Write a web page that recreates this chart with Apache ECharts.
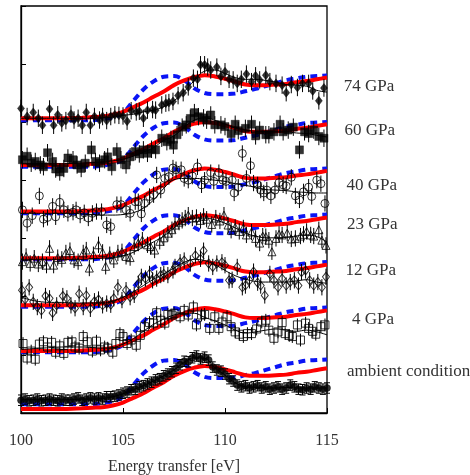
<!DOCTYPE html>
<html>
<head>
<meta charset="utf-8">
<script src="https://cdn.jsdelivr.net/npm/echarts/dist/echarts.min.js"></script>
<style>
  html, body { margin: 0; padding: 0; background: #fff; }
  #chart { width: 470px; height: 475px; }
</style>
</head>
<body>
<div id="chart"></div>
<script>
// Energy grid for the calculated spectra and the smoothed fits [eV]
const energyGrid = [100,100.5,101,101.5,102,102.5,103,103.5,104,104.5,105,105.5,106,106.5,107,107.5,
  108,108.5,109,109.5,110,110.5,111,111.5,112,112.5,113,113.5,114,114.5,115];

// Spectrum names, bottom to top
const spectra = ['ambient condition', '4 GPa', '12 GPa', '23 GPa', '40 GPa', '60 GPa', '74 GPa'];

// Vertical offsets of the stacked spectra (arb. units)
const offsets = [0.07, 1.065, 1.852, 2.663, 3.464, 4.266, 5.069];
const dashedOffsets = [0.151, 1.045, 1.826, 2.643, 3.436, 4.235, 5.034];

// Calculated spectra (same shape for every pressure)
const calcSolid = [0,0,0,0,0,0.003,0.01,0.02,0.03,0.06,0.11,0.19,0.27,0.37,0.46,0.57,
  0.65,0.71,0.74,0.72,0.68,0.63,0.58,0.57,0.57,0.58,0.59,0.62,0.64,0.67,0.70];
const calcDashed = [0,0,0,0,0,0,0,0,0.02,0.05,0.13,0.33,0.53,0.67,0.75,0.76,
  0.69,0.55,0.47,0.45,0.45,0.46,0.50,0.54,0.59,0.64,0.69,0.72,0.75,0.76,0.77];

// Measured spectra: [energy transfer, intensity]
const dataAmbient = [[100.0,0.15],[100.2,0.17],[100.4,0.14],[100.6,0.15],[100.8,0.17],[101.0,0.14],[101.2,0.15],
  [101.4,0.17],[101.6,0.15],[101.8,0.14],[102.0,0.17],[102.2,0.15],[102.4,0.15],[102.6,0.17],[102.8,0.19],
  [103.0,0.15],[103.2,0.17],[103.4,0.19],[103.6,0.17],[103.8,0.19],[104.0,0.17],[104.2,0.21],[104.4,0.21],
  [104.6,0.22],[104.8,0.24],[105.0,0.27],[105.2,0.29],[105.4,0.33],[105.6,0.34],[105.8,0.38],[106.0,0.40],
  [106.2,0.43],[106.4,0.46],[106.6,0.50],[106.8,0.52],[107.0,0.57],[107.2,0.60],[107.4,0.64],[107.6,0.70],
  [107.8,0.76],[108.0,0.82],[108.2,0.81],[108.4,0.88],[108.6,0.91],[108.8,0.86],[109.0,0.89],[109.2,0.84],
  [109.4,0.72],[109.6,0.67],[109.8,0.65],[110.0,0.60],[110.2,0.52],[110.4,0.48],[110.6,0.41],[110.8,0.38],
  [111.0,0.40],[111.2,0.36],[111.4,0.38],[111.6,0.40],[111.8,0.36],[112.0,0.38],[112.2,0.34],[112.4,0.36],
  [112.6,0.38],[112.8,0.34],[113.0,0.36],[113.2,0.41],[113.4,0.38],[113.6,0.34],[113.8,0.33],[114.0,0.36],
  [114.2,0.34],[114.4,0.38],[114.6,0.36],[114.8,0.34],[115.0,0.36]];

const data4 = [[100.1,0.13],[100.3,-0.12],[100.5,0.00],[100.7,-0.14],[100.9,0.12],[101.1,0.16],[101.3,0.07],
  [101.5,0.15],[101.7,-0.02],[101.9,0.09],[102.1,-0.04],[102.3,0.15],[102.5,0.16],[102.65,0.07],[102.85,0.05],
  [103.05,0.25],[103.25,0.16],[103.5,0.00],[103.7,0.17],[103.9,0.02],[104.1,0.07],[104.25,0.05],[104.5,-0.02],
  [104.65,0.13],[104.85,0.30],[105.0,0.25],[105.2,0.13],[105.4,0.19],[105.65,0.10],[105.85,0.27],[106.05,0.42],
  [106.3,0.49],[106.5,0.48],[106.65,0.66],[106.85,0.53],[107.05,0.48],[107.2,0.63],[107.4,0.62],[107.5,0.65],
  [107.8,0.59],[108.0,0.70],[108.2,0.62],[108.45,0.76],[108.6,0.45],[108.85,0.62],[109.0,0.63],[109.25,0.39],
  [109.5,0.59],[109.7,0.39],[109.85,0.50],[110.1,0.59],[110.3,0.42],[110.5,0.33],[110.7,0.29],[110.9,0.25],
  [111.1,0.30],[111.3,0.30],[111.55,0.38],[111.8,0.50],[112.0,0.53],[112.15,0.36],[112.4,0.22],[112.6,0.33],
  [112.8,0.49],[112.95,0.30],[113.15,0.27],[113.3,0.25],[113.55,0.45],[113.7,0.19],[113.95,0.48],[114.1,0.39],
  [114.3,0.34],[114.45,0.29],[114.7,0.42],[114.9,0.45]];

const data12 = [[100.05,0.26],[100.2,0.10],[100.4,0.31],[100.6,0.06],[100.8,-0.03],[101.0,-0.09],[101.2,0.16],
  [101.4,0.12],[101.55,-0.13],[101.75,0.00],[102.05,0.16],[102.25,0.12],[102.45,0.00],[102.65,-0.05],[102.85,0.20],
  [103.05,-0.03],[103.2,0.17],[103.4,-0.06],[103.6,0.07],[103.8,0.10],[104.0,0.00],[104.2,0.03],[104.4,0.01],
  [104.55,0.12],[104.75,0.31],[104.95,0.09],[105.15,0.26],[105.35,0.14],[105.55,0.18],[105.75,0.37],[105.9,0.49],
  [106.1,0.46],[106.3,0.54],[106.45,0.43],[106.65,0.46],[106.85,0.52],[107.0,0.54],[107.2,0.52],[107.45,0.60],
  [107.55,0.66],[107.8,0.74],[108.0,0.77],[108.3,0.72],[108.55,0.86],[108.8,0.80],[108.95,0.94],[109.2,0.72],
  [109.4,0.66],[109.6,0.72],[109.85,0.74],[110.0,0.69],[110.2,0.43],[110.35,0.44],[110.6,0.66],[110.85,0.31],
  [111.0,0.34],[111.2,0.43],[111.4,0.58],[111.6,0.39],[111.75,0.34],[111.95,0.17],[112.2,0.54],[112.4,0.43],
  [112.6,0.31],[112.8,0.46],[113.0,0.34],[113.2,0.40],[113.4,0.43],[113.6,0.34],[113.75,0.57],[113.95,0.60],
  [114.15,0.43],[114.35,0.34],[114.55,0.40],[114.75,0.31],[114.95,0.49]];

const data23 = [[100.07,-0.06],[100.25,0.03],[100.45,-0.09],[100.65,0.00],[100.85,-0.10],[101.05,-0.06],
  [101.25,-0.12],[101.4,0.17],[101.6,-0.12],[101.8,0.01],[102.0,-0.02],[102.2,0.09],[102.4,0.13],[102.6,-0.03],
  [102.8,-0.06],[103.05,0.09],[103.2,0.14],[103.35,-0.17],[103.55,0.06],[103.8,0.23],[104.0,0.10],[104.15,-0.14],
  [104.35,0.06],[104.55,-0.03],[104.75,0.09],[104.95,0.11],[105.15,0.03],[105.35,0.01],[105.55,0.20],[105.75,0.26],
  [105.95,0.31],[106.2,0.23],[106.35,0.20],[106.55,0.14],[106.8,0.29],[107.0,0.35],[107.2,0.43],[107.4,0.49],
  [107.55,0.57],[107.75,0.62],[107.9,0.65],[108.05,0.69],[108.2,0.74],[108.4,0.69],[108.6,0.70],[108.8,0.65],
  [108.95,0.72],[109.1,0.67],[109.35,0.58],[109.55,0.69],[109.75,0.64],[109.95,0.74],[110.15,0.57],[110.3,0.48],
  [110.5,0.53],[110.7,0.46],[110.9,0.52],[111.05,0.40],[111.3,0.45],[111.5,0.34],[111.7,0.26],[111.85,0.38],
  [112.0,0.37],[112.15,0.31],[112.3,0.11],[112.5,0.34],[112.65,0.41],[112.8,0.40],[113.05,0.43],[113.25,0.33],
  [113.45,0.34],[113.7,0.38],[113.85,0.41],[114.0,0.46],[114.2,0.40],[114.35,0.38],[114.6,0.49],[114.75,0.31],
  [114.95,0.22]];

const data40 = [[100.07,0.03],[100.3,-0.20],[100.55,-0.07],[100.9,0.27],[101.1,-0.13],[101.3,-0.10],[101.55,0.09],
  [101.7,-0.09],[101.9,0.16],[102.1,0.03],[102.3,-0.03],[102.55,-0.01],[102.7,0.03],[102.9,-0.06],[103.1,-0.02],
  [103.3,-0.11],[103.5,-0.03],[103.7,0.00],[103.95,0.00],[104.2,-0.23],[104.4,-0.26],[104.7,0.12],[104.9,0.12],
  [105.15,0.03],[105.35,-0.03],[105.6,0.17],[105.75,0.17],[105.9,-0.04],[106.05,0.14],[106.3,0.26],[106.5,0.29],
  [106.65,0.63],[106.85,0.37],[107.05,0.57],[107.25,0.60],[107.45,0.75],[107.6,0.72],[107.85,0.72],[108.0,0.57],
  [108.2,0.54],[108.4,0.61],[108.65,0.77],[108.85,0.46],[109.0,0.54],[109.3,0.67],[109.45,0.52],[109.7,0.67],
  [109.9,0.54],[110.05,0.52],[110.35,0.54],[110.45,0.32],[110.65,0.42],[110.85,1.00],[111.05,0.57],[111.25,0.79],
  [111.4,0.49],[111.6,0.46],[111.75,0.37],[111.9,0.32],[112.05,0.37],[112.25,0.27],[112.45,0.37],[112.65,0.50],
  [112.85,0.46],[113.0,0.44],[113.25,0.59],[113.45,0.27],[113.65,0.20],[113.85,0.34],[114.1,0.42],[114.25,0.26],
  [114.5,0.54],[114.7,0.48],[114.9,0.14]];

const data60 = [[100.07,0.09],[100.3,0.15],[100.5,0.03],[100.7,0.06],[100.95,0.00],[101.1,-0.03],[101.3,0.21],
  [101.55,0.06],[101.7,-0.07],[101.9,-0.12],[102.1,-0.06],[102.3,0.12],[102.55,0.09],[102.75,0.00],[102.95,-0.06],
  [103.15,0.03],[103.45,0.26],[103.65,0.06],[103.85,0.03],[104.1,0.09],[104.25,0.14],[104.45,-0.03],[104.7,0.23],
  [104.9,0.09],[105.15,0.00],[105.35,0.14],[105.6,0.23],[105.8,0.19],[106.0,0.26],[106.2,0.20],[106.4,0.27],
  [106.6,0.26],[106.9,0.46],[107.15,0.40],[107.35,0.44],[107.47,0.34],[107.65,0.52],[107.9,0.65],[108.1,0.69],
  [108.3,0.80],[108.5,0.90],[108.7,0.83],[108.95,0.81],[109.1,0.77],[109.3,0.86],[109.5,0.69],[109.8,0.69],
  [110.0,0.66],[110.3,0.54],[110.5,0.70],[110.65,0.59],[111.0,0.63],[111.3,0.70],[111.5,0.50],[111.7,0.60],
  [112.0,0.52],[112.15,0.52],[112.4,0.57],[112.7,0.70],[112.85,0.57],[113.1,0.60],[113.35,0.65],[113.65,0.26],
  [113.9,0.57],[114.1,0.54],[114.35,0.60],[114.6,0.49],[114.85,0.46]];

const data74 = [[100.0,0.17],[100.3,0.03],[100.6,0.10],[100.85,0.00],[101.05,-0.12],[101.4,0.16],[101.6,-0.12],
  [101.8,0.06],[102.0,-0.08],[102.2,-0.04],[102.45,0.07],[102.6,-0.03],[102.8,0.00],[103.0,-0.12],[103.2,0.10],
  [103.4,-0.12],[103.6,0.03],[103.85,-0.03],[104.0,0.03],[104.2,-0.04],[104.4,0.03],[104.6,0.06],[104.8,0.05],
  [105.0,0.04],[105.2,-0.05],[105.4,0.13],[105.65,0.11],[105.8,0.12],[106.0,0.00],[106.2,0.14],[106.45,0.15],
  [106.6,0.14],[106.9,0.23],[107.1,0.26],[107.25,0.27],[107.45,0.29],[107.7,0.39],[107.95,0.44],[108.2,0.54],
  [108.45,0.69],[108.65,0.67],[108.8,0.92],[109.0,0.92],[109.15,0.88],[109.3,0.83],[109.6,0.88],[109.8,0.72],
  [110.0,0.80],[110.2,0.67],[110.4,0.66],[110.6,0.60],[110.8,0.67],[111.05,0.76],[111.3,0.63],[111.5,0.73],
  [111.7,0.66],[112.0,0.74],[112.2,0.63],[112.5,0.60],[112.8,0.57],[113.0,0.44],[113.25,0.58],[113.55,0.53],
  [113.8,0.60],[114.1,0.60],[114.3,0.47],[114.6,0.30],[114.85,0.52]];

// Smoothed fits through the measured points, on energyGrid
const fitAmbient = [0.16,0.16,0.16,0.16,0.16,0.16,0.17,0.17,0.18,0.21,0.26,0.33,0.40,0.48,0.57,0.67,
  0.80,0.88,0.87,0.71,0.58,0.45,0.38,0.37,0.36,0.36,0.37,0.36,0.36,0.36,0.36];
const fit4 = [0.03,0.04,0.05,0.06,0.07,0.07,0.07,0.06,0.05,0.06,0.12,0.21,0.34,0.46,0.55,0.62,
  0.65,0.65,0.58,0.52,0.45,0.36,0.31,0.33,0.36,0.38,0.36,0.34,0.36,0.33,0.28];
const fit12 = [0.14,0.09,0.06,0.05,0.05,0.04,0.04,0.04,0.04,0.07,0.14,0.23,0.34,0.45,0.54,0.64,
  0.74,0.79,0.77,0.70,0.60,0.51,0.45,0.41,0.40,0.40,0.40,0.42,0.44,0.40,0.38];
const fit23 = [-0.02,-0.02,-0.02,-0.02,-0.02,-0.02,-0.02,-0.01,0.00,0.01,0.04,0.10,0.19,0.28,0.38,0.52,
  0.64,0.69,0.69,0.66,0.60,0.52,0.43,0.38,0.35,0.35,0.36,0.38,0.40,0.37,0.28];
const fit40 = [-0.03,-0.03,-0.03,-0.03,-0.03,-0.03,-0.04,-0.05,-0.06,-0.06,-0.05,-0.02,0.06,0.20,0.40,0.55,
  0.57,0.57,0.56,0.54,0.52,0.48,0.45,0.42,0.38,0.37,0.36,0.34,0.33,0.32,0.32];
const fit60 = [0.02,0.02,0.02,0.02,0.02,0.03,0.03,0.04,0.05,0.07,0.10,0.15,0.22,0.30,0.42,0.50,
  0.65,0.77,0.81,0.77,0.70,0.64,0.60,0.58,0.57,0.57,0.57,0.55,0.54,0.51,0.48];
const fit74 = [0,0,0,0,0,0,0,0,0.01,0.02,0.05,0.07,0.11,0.14,0.20,0.30,
  0.46,0.65,0.81,0.83,0.77,0.70,0.67,0.67,0.65,0.62,0.58,0.57,0.55,0.48,0.45];

// Half-length of the error bars for each spectrum
const errors = [0.09, 0.11, 0.14, 0.14, 0.14, 0.15, 0.15];

// Position of the pressure labels (intensity level, gap right of the frame in px)
const labelLevels = [0.71, 1.60, 2.445, 3.25, 3.92, 4.85, 5.62];
const labelGaps = [20, 25, 18.5, 20, 19.5, 17.5, 16.8];

const measured = [dataAmbient, data4, data12, data23, data40, data60, data74];
const fits = [fitAmbient, fit4, fit12, fit23, fit40, fit60, fit74];

const symbols = ['circle', 'rect', 'diamond', 'triangle', 'circle', 'rect', 'diamond'];
const symbolSizes = [7, 8, [7, 9], 8, 8, 8, [7, 9]];
const filled = [true, false, false, false, false, true, true];

const SERIF = '"Liberation Serif", "Times New Roman", serif';

function errorBarRenderer(withCaps) {
  return function (params, api) {
    const x = api.value(0), y = api.value(1), e = api.value(2);
    const hi = api.coord([x, y + e]);
    const lo = api.coord([x, y - e]);
    const style = { stroke: '#000', lineWidth: 1 };
    const children = [{ type: 'line', shape: { x1: hi[0], y1: hi[1], x2: lo[0], y2: lo[1] }, style }];
    if (withCaps) {
      children.push({ type: 'line', shape: { x1: hi[0] - 3, y1: hi[1], x2: hi[0] + 3, y2: hi[1] }, style });
      children.push({ type: 'line', shape: { x1: lo[0] - 3, y1: lo[1], x2: lo[0] + 3, y2: lo[1] }, style });
    }
    return { type: 'group', children };
  };
}

const series = [];
spectra.forEach((name, i) => {
  const off = offsets[i];
  series.push({
    type: 'line', name: name + ' dashed', smooth: 0.35, symbol: 'none', z: 2,
    data: energyGrid.map((e, k) => [e, calcDashed[k] + dashedOffsets[i]]),
    lineStyle: { color: '#0a14f5', width: 4, type: [7, 5], cap: 'butt' }
  });
  series.push({
    type: 'line', name: name + ' solid', smooth: 0.35, symbol: 'none', z: 3,
    data: energyGrid.map((e, k) => [e, calcSolid[k] + off]),
    lineStyle: { color: '#ff0000', width: 4 }
  });
  series.push({
    type: 'line', name: name + ' fit', smooth: 0.4, symbol: 'none', z: 4,
    data: energyGrid.map((e, k) => [e, fits[i][k] + off]),
    lineStyle: { color: '#000', width: 1 }
  });
  series.push({
    type: 'custom', name: name + ' errors', z: 5,
    renderItem: errorBarRenderer(i === 0),
    data: measured[i].map(p => [p[0], p[1] + off, errors[i]])
  });
  series.push({
    type: 'scatter', name: name, z: 6,
    symbol: symbols[i], symbolSize: symbolSizes[i],
    data: measured[i].map(p => [p[0], p[1] + off]),
    itemStyle: filled[i]
      ? { color: '#000', borderColor: '#000', borderWidth: 0.5 }
      : { color: 'rgba(0,0,0,0)', borderColor: '#000', borderWidth: 1 }
  });
});

const chart = echarts.init(document.getElementById('chart'), null, { renderer: 'canvas' });
chart.setOption({
  animation: false,
  backgroundColor: '#fff',
  grid: {
    left: 21, right: 143, top: 6, bottom: 62,
    containLabel: false, outerBoundsMode: 'none',
    show: true, borderColor: '#000', borderWidth: 1.3
  },
  xAxis: {
    type: 'value', min: 100, max: 115, interval: 5,
    name: 'Energy transfer [eV]', nameLocation: 'middle', nameGap: 46,
    nameTextStyle: { fontFamily: SERIF, fontSize: 16, color: '#333' },
    axisLine: { lineStyle: { color: '#000', width: 1.3 } },
    axisTick: { inside: true, length: 5, lineStyle: { color: '#000' } },
    axisLabel: { fontFamily: SERIF, fontSize: 16, color: '#333', margin: 20 },
    splitLine: { show: false }
  },
  yAxis: {
    type: 'value', min: 0, max: 7, interval: 1,
    axisLine: { show: true, lineStyle: { color: '#000', width: 1.3 } },
    axisTick: { show: true, inside: true, length: 5, lineStyle: { color: '#000' } },
    axisLabel: { show: false },
    splitLine: { show: false }
  },
  series
});

// Pressure labels to the right of the frame
chart.setOption({
  graphic: spectra.map((t, i) => {
    const p = chart.convertToPixel({ gridIndex: 0 }, [115, labelLevels[i]]);
    return {
      type: 'text', x: p[0] + labelGaps[i], y: p[1],
      style: { text: t, fill: '#333', font: '17px ' + SERIF, verticalAlign: 'middle' }
    };
  })
});
</script>
</body>
</html>
